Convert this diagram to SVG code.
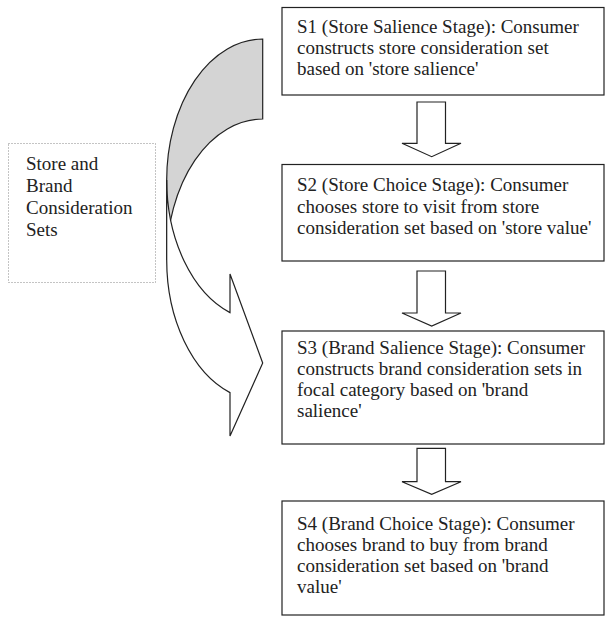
<svg xmlns="http://www.w3.org/2000/svg" width="608" height="625" viewBox="0 0 608 625">
<style>
.box{fill:#fff;stroke:#222;stroke-width:1.2}
.txt{font-family:"Liberation Serif","Times New Roman",serif;font-size:19px;fill:#222}
.blk{fill:#fff;stroke:#222;stroke-width:1.2;stroke-linejoin:miter}
.dot{fill:#fff;stroke:#888;stroke-width:1;stroke-dasharray:1,2}
</style>
<rect width="608" height="625" fill="#fff"/>
<g id="sets">
<rect class="dot" x="8.5" y="143.5" width="147" height="139"/>
<text class="txt" x="26"><tspan x="26" y="170">Store and</tspan><tspan x="26" y="192">Brand</tspan><tspan x="26" y="214">Consideration</tspan><tspan x="26" y="236">Sets</tspan></text>
</g>
<g id="connectors">
<path d="M262.7,39 A96,141 0 0 0 166.7,180 L166.7,260 A96,141 0 0 1 262.7,119 Z" fill="#d4d4d4" stroke="#222" stroke-width="1.2"/>
<path class="blk" d="M166.7,180 A96,141 0 0 0 230,312.6 L230,274 L262.7,363 L230,436 L230,392.6 A96,141 0 0 1 166.7,260 Z"/>
<path class="blk" d="M417,102 H445.5 V143.3 H461 L431.7,156.7 L402,143.3 H417 Z"/>
<path class="blk" d="M417,271 H445.5 V313 H461 L431.7,326 L402,313 H417 Z"/>
<path class="blk" d="M417,448.3 H445.5 V481.7 H461 L431.7,494.3 L402,481.7 H417 Z"/>
</g>
<g id="s1">
<rect class="box" x="282" y="7.5" width="322" height="87.5"/>
<text class="txt"><tspan x="297" y="33">S1 (Store Salience Stage): Consumer</tspan><tspan x="297" y="54">constructs store consideration set</tspan><tspan x="297" y="75">based on 'store salience'</tspan></text>
</g>
<g id="s2">
<rect class="box" x="282" y="164.5" width="322" height="96.5"/>
<text class="txt"><tspan x="297" y="191">S2 (Store Choice Stage): Consumer</tspan><tspan x="297" y="212.5">chooses store to visit from store</tspan><tspan x="297" y="234">consideration set based on 'store value'</tspan></text>
</g>
<g id="s3">
<rect class="box" x="282" y="331" width="322" height="113"/>
<text class="txt"><tspan x="297" y="354">S3 (Brand Salience Stage): Consumer</tspan><tspan x="297" y="375">constructs brand consideration sets in</tspan><tspan x="297" y="396">focal category based on 'brand</tspan><tspan x="297" y="417">salience'</tspan></text>
</g>
<g id="s4">
<rect class="box" x="282" y="501" width="322" height="114"/>
<text class="txt"><tspan x="297" y="530">S4 (Brand Choice Stage): Consumer</tspan><tspan x="297" y="551">chooses brand to buy from brand</tspan><tspan x="297" y="572">consideration set based on 'brand</tspan><tspan x="297" y="593">value'</tspan></text>
</g>
</svg>
